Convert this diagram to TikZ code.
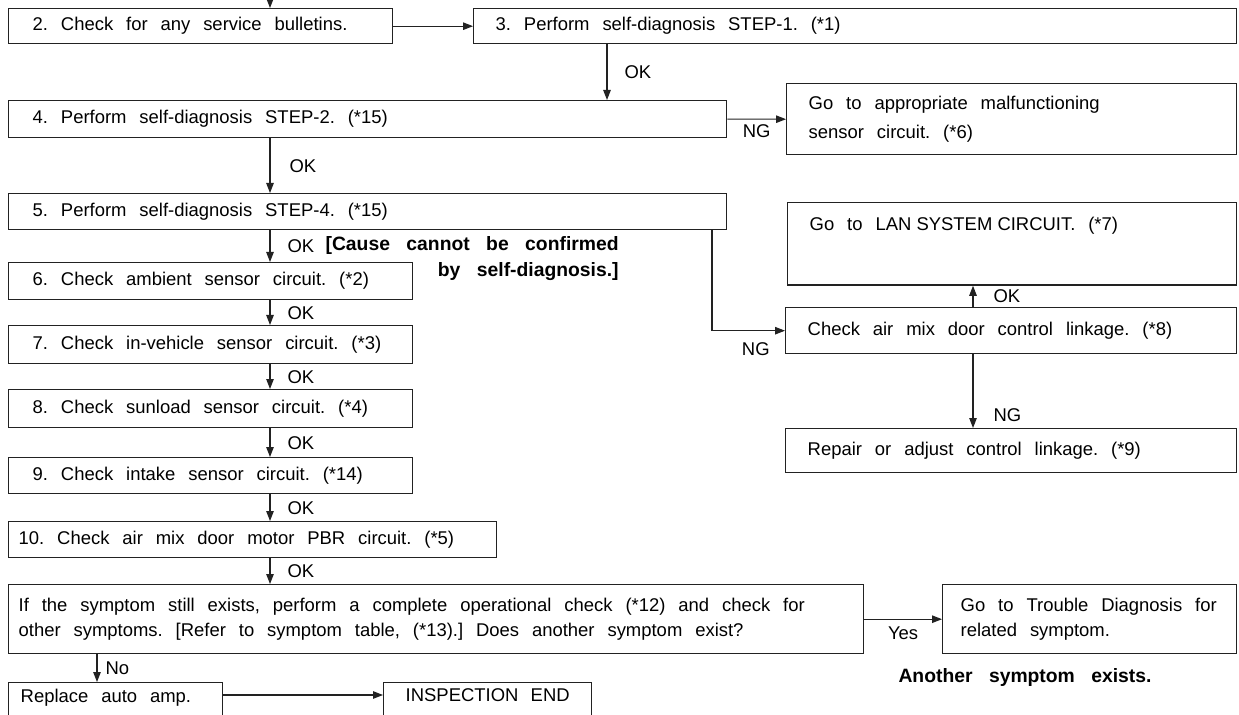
\documentclass[tikz,border=0pt]{standalone}
\usepackage{fontspec}
\setmainfont{Liberation Sans}
\usetikzlibrary{arrows.meta, positioning, calc}
\definecolor{linegray}{RGB}{34,34,34}
% wide word gaps as in the printed chart
\newcommand{\widegaps}[1]{\spaceskip=#1 plus 0.1em minus 0.05em\xspaceskip=\spaceskip}
\newcommand{\stepfont}{\fontsize{10.5}{14}\selectfont}
\tikzset{
    stepbox/.style={rectangle, draw=linegray, line width=0.8pt, anchor=north west,
                    align=left, inner xsep=0.48cm, inner ysep=0pt, font=\stepfont,
                    execute at begin node=\widegaps{0.7em}},
    arrow/.style={-{Triangle[length=0.2cm, width=0.15cm]}, line width=0.6pt, draw=linegray},
    edgelbl/.style={font=\stepfont, inner sep=0pt},
    notelbl/.style={font=\fontsize{11}{15}\selectfont\bfseries, inner sep=0pt, align=right,
                    execute at begin node=\widegaps{0.85em}},
}

\begin{document}
\begin{tikzpicture}[x=0.02cm, y=-0.02cm]
    \useasboundingbox (0,0) rectangle (1239,715);
    \clip (0,0) rectangle (1239,715);
    % spines of the vertical connectors
    \coordinate (entry) at (270,-10);
    \coordinate (lspine) at (270,0);
    \coordinate (mspine) at (607,0);
    \coordinate (rspine) at (973,0);
    \coordinate (ngdrop) at (712,0);
    \coordinate (nospine) at (97,0);
    \coordinate (endrow) at (0,695);

    % main column
    \node[stepbox, text width=6.72cm, minimum height=0.70cm] (b2) at (8,8)
        {2. Check for any service bulletins.};
    \node[stepbox, inner xsep=0.44cm, text width=14.38cm, minimum height=0.70cm] (b3) at (473,8)
        {3. Perform self-diagnosis STEP-1. (*1)};
    \node[stepbox, text width=13.40cm, minimum height=0.74cm] (b4) at (8,100)
        {4. Perform self-diagnosis STEP-2. (*15)};
    \node[stepbox, text width=13.40cm, minimum height=0.72cm] (b5) at (8,193)
        {5. Perform self-diagnosis STEP-4. (*15)};
    \node[stepbox, text width=7.12cm, minimum height=0.74cm] (b6) at (8,262)
        {6. Check ambient sensor circuit. (*2)};
    \node[stepbox, text width=7.12cm, minimum height=0.76cm] (b7) at (8,325)
        {7. Check in-vehicle sensor circuit. (*3)};
    \node[stepbox, text width=7.12cm, minimum height=0.76cm] (b8) at (8,389)
        {8. Check sunload sensor circuit. (*4)};
    \node[stepbox, text width=7.12cm, minimum height=0.72cm] (b9) at (8,457)
        {9. Check intake sensor circuit. (*14)};
    \node[stepbox, inner xsep=0.2cm, text width=9.36cm, minimum height=0.72cm] (b10) at (8,521)
        {10. Check air mix door motor PBR circuit. (*5)};
    \node[stepbox, inner xsep=0.2cm, text width=16.70cm, minimum height=1.38cm] (b11) at (8,584)
        {If the symptom still exists, perform a complete operational check (*12) and check for\\
         other symptoms. [Refer to symptom table, (*13).] Does another symptom exist?};
    \node[stepbox, inner xsep=0.24cm, inner ysep=0.12cm, text width=3.80cm, text depth=0.8cm] (replace) at (8,682)
        {Replace auto amp.};
    \node[stepbox, inner xsep=0.44cm, inner ysep=0.12cm, text width=3.28cm, text depth=0.8cm] (inspend) at (383,682)
        {INSPECTION END};

    % right column
    \node[stepbox, inner xsep=0.44cm, text width=8.12cm, minimum height=1.42cm,
          font=\fontsize{10.5}{16}\selectfont] (go6) at (786,83)
        {Go to appropriate malfunctioning\\sensor circuit. (*6)};
    \node[stepbox, inner xsep=0.44cm, inner ysep=0.28cm, text width=8.10cm, text depth=0.82cm] (lan) at (787,202)
        {Go to {\spaceskip=0pt LAN SYSTEM CIRCUIT.} (*7)};
    \node[stepbox, inner xsep=0.44cm, text width=8.14cm, minimum height=0.92cm] (link) at (785,307)
        {Check air mix door control linkage. (*8)};
    \node[stepbox, inner xsep=0.44cm, text width=8.14cm, minimum height=0.88cm] (repair) at (785,428)
        {Repair or adjust control linkage. (*9)};
    \node[stepbox, inner xsep=0.36cm, text width=5.16cm, minimum height=1.38cm] (trouble) at (942,584)
        {Go to Trouble Diagnosis for\\related symptom.};

    % notes
    \node[notelbl, anchor=north east] (cause) at (619,236)
        {[Cause cannot be confirmed\\by self-diagnosis.]};
    \node[notelbl] (another) at (1025,677) {Another symptom exists.};

    % connectors
    \draw[arrow] (entry) -- (b2.north -| entry);
    \draw[arrow] (b2) -- (b3);
    \draw[arrow] (b3.south -| mspine) -- node[edgelbl, right=0.34cm] {OK} (b4.north -| mspine);
    \draw[arrow] (b4) -- node[edgelbl, below=0.1cm] {NG} (go6);
    \draw[arrow] (b4.south -| lspine) -- node[edgelbl, right=0.38cm] {OK} (b5.north -| lspine);
    \foreach \a/\b in {b5/b6, b6/b7, b7/b8, b8/b9, b9/b10, b10/b11}
        \draw[arrow] (\a.south -| lspine) -- node[edgelbl, right=0.34cm] {OK} (\b.north -| lspine);
    \draw[arrow] (b5.south -| ngdrop) |- node[edgelbl, pos=0.8, below=0.22cm] {NG} (link.west);
    \draw[arrow] (link.north -| rspine) -- node[edgelbl, right=0.4cm] {OK} (lan.south -| rspine);
    \draw[arrow] (link.south -| rspine) -- node[edgelbl, pos=0.83, right=0.4cm] {NG} (repair.north -| rspine);
    \draw[arrow] (b11) -- node[edgelbl, below=0.15cm] {Yes} (trouble);
    \draw[arrow] (b11.south -| nospine) -- node[edgelbl, right=0.16cm] {No} (replace.north -| nospine);
    \draw[arrow] (replace.east |- endrow) -- (inspend.west |- endrow);
\end{tikzpicture}
\end{document}
